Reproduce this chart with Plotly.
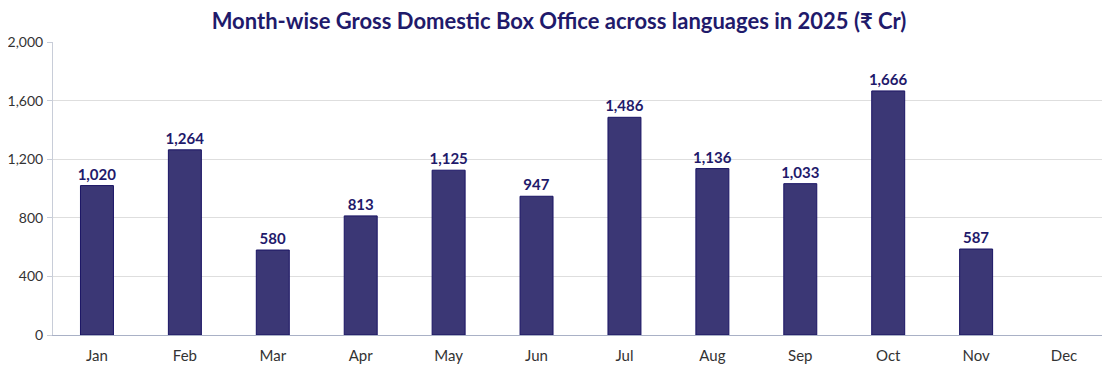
import plotly.graph_objects as go

months = ["Jan", "Feb", "Mar", "Apr", "May", "Jun", "Jul", "Aug", "Sep", "Oct", "Nov", "Dec"]
values = [1020, 1264, 580, 813, 1125, 947, 1486, 1136, 1033, 1666, 587, None]
labels = [f"{v:,}" if v is not None else "" for v in values]
y_ticks = [0, 400, 800, 1200, 1600, 2000]

fig = go.Figure(go.Bar(
    x=months, y=values, text=labels, textposition="outside", constraintext="none",
    textfont=dict(family="Lato", size=15, color="#1f1a6b", weight="bold"),
    marker=dict(color="#3b3775", line=dict(color="#1a1464", width=1)),
    cliponaxis=False, width=0.375,
))

fig.update_layout(
    width=1102, height=360,
    margin=dict(l=45, r=2, t=34, b=33, autoexpand=False),
    paper_bgcolor="white", plot_bgcolor="white",
    title=dict(text="<b>Month-wise Gross Domestic Box Office across languages in 2025 (₹ Cr)</b>",
               x=0.5, xanchor="center", y=0.964, yanchor="middle",
               font=dict(family="Lato", size=22, color="#1f1a6b")),
    font=dict(family="Lato", size=15, color="#333333"),
    showlegend=False,
    xaxis=dict(showline=True, linecolor="#a9b1c6", linewidth=1, ticks="",
               automargin=False, ticklabelstandoff=7,
               tickfont=dict(size=15, color="#333333")),
    yaxis=dict(range=[0, 2000], tickvals=y_ticks, tickformat=",", showgrid=True,
               gridcolor="#dedede", zeroline=False, showline=True, linecolor="#c8cdd8",
               ticks="outside", ticklen=5, tickcolor="#c8cdd8",
               automargin=False, ticklabelstandoff=1,
               tickfont=dict(size=14, color="#333333")),
)

fig.write_html("out.html")
